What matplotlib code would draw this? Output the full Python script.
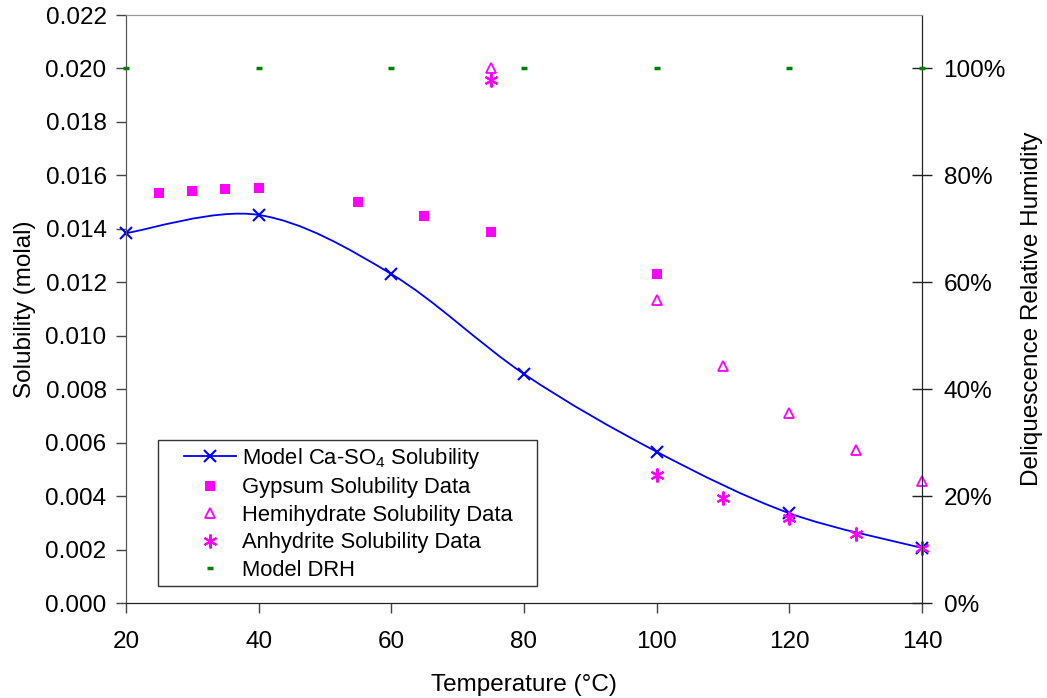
import matplotlib
matplotlib.use("Agg")
import matplotlib.pyplot as plt
from matplotlib.path import Path
from matplotlib.patches import PathPatch
from matplotlib.lines import Line2D
from matplotlib.legend_handler import HandlerLine2D
from matplotlib.ticker import MultipleLocator, FuncFormatter

plt.rcParams['font.family'] = ['Liberation Sans', 'DejaVu Sans']
plt.rcParams['mathtext.fontset'] = 'custom'
plt.rcParams['mathtext.rm'] = 'Liberation Sans'
plt.rcParams['mathtext.it'] = 'Liberation Sans:italic'

# Données
model_t = [20, 40, 60, 80, 100, 120, 140]
model_sol = [0.01384, 0.01452, 0.01231, 0.00857, 0.00566, 0.00336, 0.00206]

gypsum_t = [25, 30, 35, 40, 55, 65, 75, 100]
gypsum_sol = [0.01534, 0.01543, 0.01548, 0.01553, 0.01500, 0.01448, 0.01389, 0.01230]

hemi_t = [75, 100, 110, 120, 130, 140]
hemi_sol = [0.02002, 0.01134, 0.00887, 0.00711, 0.00573, 0.00457]

anhy_t = [75, 100, 110, 120, 130, 140]
anhy_sol = [0.01957, 0.00479, 0.00393, 0.00318, 0.00258, 0.00206]

drh_t = [20, 40, 60, 80, 100, 120, 140]
drh = [1.0, 1.0, 1.0, 1.0, 1.0, 1.0, 1.0]

BLUE = '#0000FF'
MAGENTA = '#FF00FF'
GREEN = '#008000'


def smooth_path(xs, ys):
    """Courbe lissée façon Excel (Bézier cubique passant par les points)."""
    pts = list(zip(xs, ys))
    n = len(pts)
    verts = [pts[0]]
    codes = [Path.MOVETO]
    for i in range(n - 1):
        p0 = pts[i - 1] if i > 0 else pts[i]
        p1 = pts[i]
        p2 = pts[i + 1]
        p3 = pts[i + 2] if i + 2 < n else pts[i + 1]
        c1 = (p1[0] + (p2[0] - p0[0]) / 6, p1[1] + (p2[1] - p0[1]) / 6)
        c2 = (p2[0] - (p3[0] - p1[0]) / 6, p2[1] - (p3[1] - p1[1]) / 6)
        verts += [c1, c2, p2]
        codes += [Path.CURVE4] * 3
    return Path(verts, codes)


fig = plt.figure(figsize=(10.47, 6.98), dpi=100)
ax = fig.add_axes([0.1203, 0.1361, 0.7603, 0.8424])
ax2 = ax.twinx()

# Courbe du modèle
ax.add_patch(PathPatch(smooth_path(model_t, model_sol), fill=False,
                       edgecolor=BLUE, lw=1.3, zorder=3))
ax.plot(model_t, model_sol, linestyle='none', marker='x', color=BLUE,
        markersize=9, mew=1.5, clip_on=False, zorder=4)

# Données expérimentales
ax.plot(gypsum_t, gypsum_sol, linestyle='none', marker='s', color=MAGENTA,
        markersize=7.5, mew=0, clip_on=False, zorder=4)
ax.plot(hemi_t, hemi_sol, linestyle='none', marker='^', markerfacecolor='none',
        markeredgecolor=MAGENTA, markersize=7, mew=1.3, clip_on=False, zorder=4)
ax.plot(anhy_t, anhy_sol, linestyle='none', marker=(6, 2, 0), color=MAGENTA,
        markersize=10, mew=1.5, clip_on=False, zorder=5)

# DRH sur l'axe de droite
ax2.plot(drh_t, drh, linestyle='none', marker='_', color=GREEN,
         markersize=5, mew=2.5, clip_on=False, zorder=4)

ax.set_xlim(20, 140)
ax.set_ylim(0, 0.022)
ax2.set_ylim(0, 1.1)

ax.xaxis.set_major_locator(MultipleLocator(20))
ax.yaxis.set_major_locator(MultipleLocator(0.002))
ax.yaxis.set_major_formatter(FuncFormatter(lambda v, p: f"{v:.3f}"))
ax2.yaxis.set_major_locator(MultipleLocator(0.2))
ax2.yaxis.set_major_formatter(FuncFormatter(lambda v, p: f"{v * 100:.0f}%"))

ax.tick_params(axis='both', labelsize=17.5, direction='out', length=7, width=1,
               color='#444444')
ax.tick_params(axis='y', pad=7)
ax.tick_params(axis='x', pad=13)
ax2.tick_params(axis='y', labelsize=17.5, direction='inout', length=15, width=1,
                color='#222222', pad=8)

ax.set_xlabel("Temperature (°C)", fontsize=17.5, labelpad=15)
ax.set_ylabel("Solubility (molal)", fontsize=17.5, labelpad=7)
ax2.set_ylabel("Deliquescence Relative Humidity", fontsize=17.5, labelpad=11)

for a in (ax, ax2):
    a.spines['top'].set_color('#999999')
    a.spines['left'].set_color('#555555')
    a.spines['bottom'].set_color('#222222')
    a.spines['right'].set_color('#222222')

handles = [
    Line2D([], [], color=BLUE, marker='x', markersize=9, mew=1.5, lw=1.3),
    Line2D([], [], color=MAGENTA, marker='s', linestyle='none', markersize=7.5, mew=0),
    Line2D([], [], marker='^', linestyle='none', markerfacecolor='none',
           markeredgecolor=MAGENTA, markersize=7, mew=1.3),
    Line2D([], [], color=MAGENTA, marker=(6, 2, 0), linestyle='none',
           markersize=10, mew=1.5),
    Line2D([], [], color=GREEN, marker='_', linestyle='none', markersize=5, mew=2.5),
]
labels = [
    "Model Ca-SO$_4$ Solubility",
    "Gypsum Solubility Data",
    "Hemihydrate Solubility Data",
    "Anhydrite Solubility Data",
    "Model DRH",
]
# Cadre de légende : de x=158 à x=537 px, haut à y=440 px
leg = ax2.legend(handles, labels, loc='upper left',
                 bbox_to_anchor=(0.040, 0.0, 0.476, 0.277), mode='expand',
                 borderaxespad=0, fontsize=15.8, frameon=True, fancybox=False,
                 edgecolor='#333333', framealpha=1, handlelength=3.3,
                 handletextpad=0.3, labelspacing=0.3, borderpad=0.25,
                 handler_map={Line2D: HandlerLine2D(xpad=0.95)})
leg.get_frame().set_linewidth(1)

fig.savefig("out.png", dpi=100, facecolor='white')
